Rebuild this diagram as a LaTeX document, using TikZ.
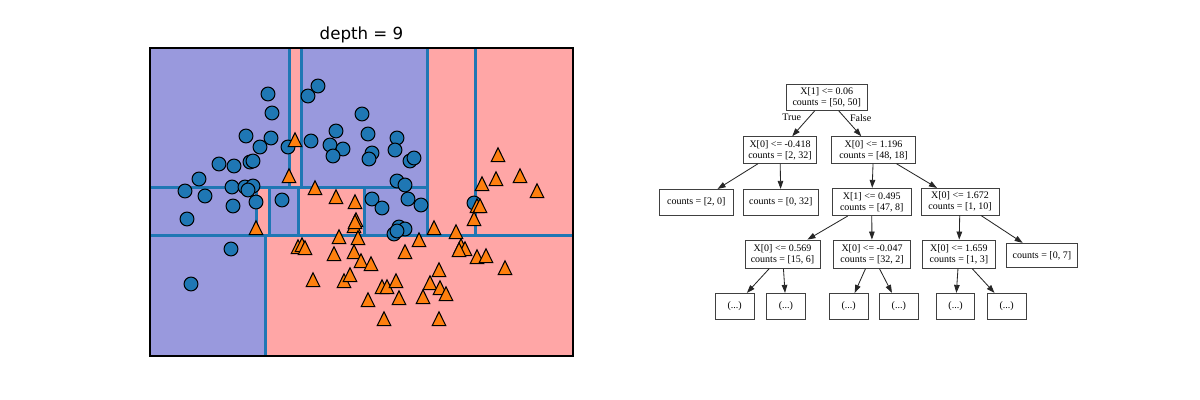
\documentclass[tikz,border=0pt]{standalone}
\usepackage{fontspec}
\setmainfont{Liberation Serif}
\newfontfamily\titlefont{DejaVu Sans}
\usetikzlibrary{arrows.meta}
\definecolor{bgblue}{RGB}{153,153,221}
\definecolor{bgred}{RGB}{255,166,166}
\definecolor{tabblue}{RGB}{31,119,180}
\definecolor{taborange}{RGB}{255,127,14}
\tikzset{
  bline/.style={draw=tabblue, line width=2.2pt},
  circmark/.style={draw=black, fill=tabblue, line width=0.75pt},
  trimark/.style={draw=black, fill=taborange, line width=0.75pt, line join=miter},
  tbox/.style={draw=black!75, line width=0.6pt, fill=white, align=center, inner sep=0pt,
    font=\fontsize{7.2}{8}\selectfont, minimum height=19pt},
  tlabel/.style={font=\fontsize{7.2}{8}\selectfont, inner sep=0pt},
  tedge/.style={draw=black!85, line width=0.6pt, -{Triangle[length=5.8pt,width=4pt]}}
}
\begin{document}
\begin{tikzpicture}[x=0.72pt,y=-0.72pt]
\useasboundingbox (0,0) rectangle (1200,400);
\fill[white] (0,0) rectangle (1200,400);
% ---------- left plot ----------
\fill[bgred] (150,48) rectangle (573,356);
\fill[bgblue] (150,48) rectangle (289.2,187.2);
\fill[bgblue] (301.8,48) rectangle (427.8,187.2);
\fill[bgblue] (150,187.2) rectangle (256.5,235.5);
\fill[bgblue] (269.2,187.2) rectangle (298.8,235.5);
\fill[bgblue] (364.5,187.2) rectangle (427.8,235.5);
\fill[bgblue] (150,235.5) rectangle (265.2,356);
% boundaries
\draw[bline] (150,235.5) -- (573,235.5);
\draw[bline] (265.2,235.5) -- (265.2,356);
\draw[bline] (427.8,48) -- (427.8,235.5);
\draw[bline] (475.2,48) -- (475.2,235.5);
\draw[bline] (150,187.2) -- (427.8,187.2);
\draw[bline] (289.2,48) -- (289.2,187.2);
\draw[bline] (301.8,48) -- (301.8,187.2);
\draw[bline] (256.5,187.2) -- (256.5,235.5);
\draw[bline] (269.2,187.2) -- (269.2,235.5);
\draw[bline] (298.8,187.2) -- (298.8,235.5);
\draw[bline] (364.5,187.2) -- (364.5,235.5);
% circles
\foreach \px/\py in {268/94,272/113,308/96,318/86,362/114,246/136,271/138,260/147,288/147,
  311/141,336/131,330/145,343/149,333/156,368/134,372/153,369/159,397/138,395/150,410/161,
  414/158,219/164,234/166,250/162,253/161,199/179,185/191,205/196,232/187,245/187,253/186,
  248/190,397/181,405/185,233/206,256/202,282/200,187/219,231/249,191/284,372/199,382/208,
  408/199,421/205,399/227,405/229,394/234,397/231,474/203}
  \draw[circmark] (\px,\py) circle[radius=5pt];
% triangles
\foreach \px/\py in {295/140,289/176,315/188,336/197,355/202,356/220,354/226,355/222,256/228,
  298/247,302/245,305/248,339/237,358/238,334/254,354/252,361/261,371/264,313/280,344/281,
  350/275,368/300,384/319,382/287,387/287,396/281,399/298,405/252,419/240,434/228,430/283,
  440/288,446/294,423/297,439/270,439/319,456/232,461/246,465/249,459/250,477/206,480/206,
  474/219,477/257,486/256,505/268,482/184,496/179,498/155,520/176,537/191}
  \draw[trimark] (\px,\py) ++(0,-7.2) -- ++(6.8,13.9) -- ++(-13.6,0) -- cycle;
\draw[black, line width=0.8pt] (150,48) rectangle (573,356);
\node[font=\titlefont\fontsize{12}{14}\selectfont, anchor=base, inner sep=0pt] (title) at (361.5,40) {depth = 9};
% ---------- tree ----------
\node[tbox, minimum width=58.5pt, minimum height=18.7pt] (root) at (826.7,97.3) {X[1] <= 0.06\\counts = [50, 50]};
\node[tbox, minimum width=52.8pt, minimum height=19.2pt] (l1) at (780,150) {X[0] <= -0.418\\counts = [2, 32]};
\node[tbox, minimum width=60.2pt, minimum height=19.2pt] (r1) at (873.5,150) {X[0] <= 1.196\\counts = [48, 18]};
\node[tbox, minimum width=53.3pt, minimum height=18.5pt] (la) at (696.3,202.2) {counts = [2, 0]};
\node[tbox, minimum width=54pt, minimum height=18.5pt] (lb) at (780.8,202.2) {counts = [0, 32]};
\node[tbox, minimum width=56.7pt, minimum height=19.7pt] (n4) at (871.7,202) {X[1] <= 0.495\\counts = [47, 8]};
\node[tbox, minimum width=56.2pt, minimum height=19.2pt] (n5) at (960,201.7) {X[0] <= 1.672\\counts = [1, 10]};
\node[tbox, minimum width=54pt, minimum height=20.4pt] (n6) at (782.5,254.2) {X[0] <= 0.569\\counts = [15, 6]};
\node[tbox, minimum width=55.7pt, minimum height=20.4pt] (n7) at (872,254.2) {X[0] <= -0.047\\counts = [32, 2]};
\node[tbox, minimum width=52pt, minimum height=20.4pt] (n8) at (958.9,254.2) {X[0] <= 1.659\\counts = [1, 3]};
\node[tbox, minimum width=51.6pt, minimum height=17.6pt] (lc) at (1041.9,255.5) {counts = [0, 7]};
\node[tbox, minimum width=27.7pt, minimum height=18.5pt] (d1) at (734.7,306.2) {(...)};
\node[tbox, minimum width=27.7pt, minimum height=18.5pt] (d2) at (785.9,306.2) {(...)};
\node[tbox, minimum width=27.7pt, minimum height=18.5pt] (d3) at (848.7,306.2) {(...)};
\node[tbox, minimum width=27.7pt, minimum height=18.5pt] (d4) at (898.8,306.2) {(...)};
\node[tbox, minimum width=27.7pt, minimum height=18.5pt] (d5) at (955.5,306.2) {(...)};
\node[tbox, minimum width=27.7pt, minimum height=18.5pt] (d6) at (1006.7,306.2) {(...)};
\node[tlabel] (truelbl) at (791.7,117.7) {True};
\node[tlabel] (falselbl) at (860.7,117.7) {False};
\draw[tedge] (root) -- (l1);
\draw[tedge] (root) -- (r1);
\draw[tedge] (l1) -- (la);
\draw[tedge] (l1) -- (lb);
\draw[tedge] (r1) -- (n4);
\draw[tedge] (r1) -- (n5);
\draw[tedge] (n4) -- (n6);
\draw[tedge] (n4) -- (n7);
\draw[tedge] (n5) -- (n8);
\draw[tedge] (n5) -- (lc);
\draw[tedge] (n6) -- (d1);
\draw[tedge] (n6) -- (d2);
\draw[tedge] (n7) -- (d3);
\draw[tedge] (n7) -- (d4);
\draw[tedge] (n8) -- (d5);
\draw[tedge] (n8) -- (d6);
\end{tikzpicture}
\end{document}
